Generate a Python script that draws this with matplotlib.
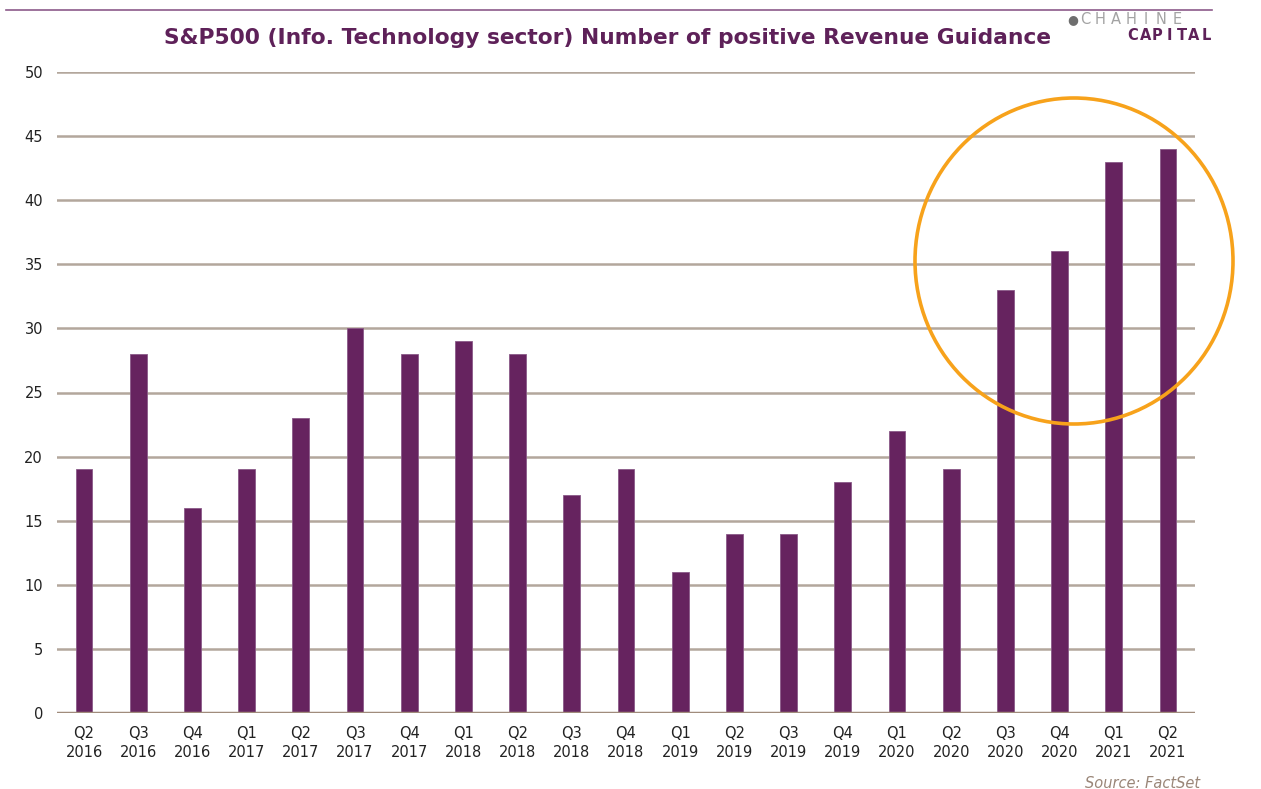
import matplotlib
matplotlib.use("Agg")
import matplotlib.pyplot as plt
from matplotlib.patches import Ellipse
from matplotlib.lines import Line2D

quarters = ["Q2", "Q3", "Q4", "Q1", "Q2", "Q3", "Q4", "Q1", "Q2", "Q3", "Q4",
            "Q1", "Q2", "Q3", "Q4", "Q1", "Q2", "Q3", "Q4", "Q1", "Q2"]
years = ["2016", "2016", "2016", "2017", "2017", "2017", "2017", "2018", "2018", "2018", "2018",
         "2019", "2019", "2019", "2019", "2020", "2020", "2020", "2020", "2021", "2021"]
values = [19, 28, 16, 19, 23, 30, 28, 29, 28, 17, 19,
          11, 14, 14, 18, 22, 19, 33, 36, 43, 44]
yticks = [0, 5, 10, 15, 20, 25, 30, 35, 40, 45, 50]

labels = [f"{q}\n{y}" for q, y in zip(quarters, years)]

plt.rcParams['font.family'] = ['DejaVu Sans']
W, H = 1261, 789
fig = plt.figure(figsize=(W / 100, H / 100), dpi=100)
ax = fig.add_axes([57 / W, 1 - 713 / H, (1195 - 57) / W, (713 - 72) / H])

x = list(range(len(values)))
ax.bar(x, values, width=0.31, color="#66235f", edgecolor="#8a5a88", linewidth=0.6, zorder=3)
ax.set_xlim(-0.5, len(values) - 0.5)
ax.set_ylim(0, 50)
ax.set_yticks(yticks)
ax.set_xticks(x)
ax.set_xticklabels(labels, fontsize=10.5, color="#222222", linespacing=1.4)
ax.tick_params(axis="both", length=0)
ax.tick_params(axis="y", pad=10, labelsize=10.5, labelcolor="#222222")
ax.tick_params(axis="x", pad=9)
for v in yticks[1:]:
    ax.axhline(v, color="#b3a79c", linewidth=1.8, zorder=1)
ax.axhline(0, color="#a08c7c", linewidth=2.5, zorder=4)
for s in ax.spines.values():
    s.set_visible(False)

# top rule
fig.add_artist(Line2D([6 / W, 1212 / W], [1 - 10 / H, 1 - 10 / H], color="#8c5a8a", linewidth=1.2))

fig.text(608 / W, 1 - 38 / H, "S&P500 (Info. Technology sector) Number of positive Revenue Guidance",
         ha="center", va="center", fontsize=15.7, fontweight="bold", color="#5e2159")

# logo
fig.text(1073 / W, 1 - 20 / H, "●", ha="center", va="center", fontsize=9, color="#6e6e6e")
for i, ch in enumerate("CHAHINE"):
    fig.text((1085 + i * 15.3) / W, 1 - 20 / H, ch, ha="center", va="center", fontsize=10.5,
             color="#a3a3a3")
for i, ch in enumerate("CAPITAL"):
    fig.text((1133 + i * 12.2) / W, 1 - 35 / H, ch, ha="center", va="center", fontsize=10.5,
             fontweight="bold", color="#5e2159")

# highlight circle
fig.add_artist(Ellipse((1074 / W, 1 - 261 / H), 318 / W, 326 / H, transform=fig.transFigure,
                       fill=False, edgecolor="#f7a21b", linewidth=2.6, zorder=10))

fig.text(1200 / W, 1 - 783 / H, "Source: FactSet", ha="right", va="center", fontsize=10.5,
         style="italic", color="#9a8678")

fig.savefig("out.png", dpi=100, facecolor="white")
